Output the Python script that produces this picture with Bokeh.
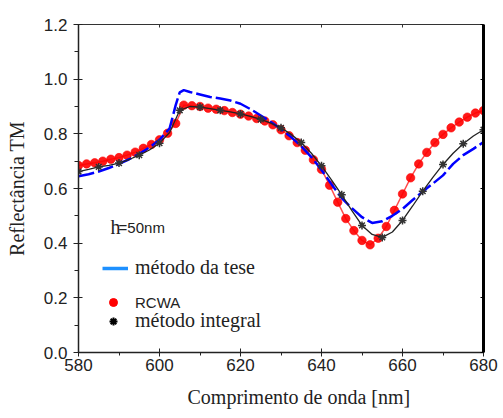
from bokeh.plotting import figure
from bokeh.models import (Range1d, LinearAxis, FixedTicker, PrintfTickFormatter,
                          Label, Legend, LegendItem, Title)
from bokeh.embed import file_html
from bokeh.resources import INLINE

# ---------------- data ----------------
rcwa_x = list(range(580, 682, 2))
rcwa_y = [0.684, 0.690, 0.694, 0.700, 0.707, 0.713, 0.722, 0.733, 0.747, 0.761,
          0.778, 0.802, 0.838, 0.905, 0.903, 0.900, 0.894, 0.890, 0.885, 0.878,
          0.872, 0.865, 0.856, 0.847, 0.833, 0.815, 0.793, 0.768, 0.740, 0.705,
          0.670, 0.612, 0.550, 0.490, 0.446, 0.410, 0.394, 0.418, 0.461, 0.520,
          0.580, 0.639, 0.690, 0.732, 0.768, 0.798, 0.822, 0.843, 0.861, 0.876,
          0.885]

tese_x = [580, 582.5, 585, 587.5, 590, 592.5, 595, 597.5, 600, 602.5, 604, 605, 606,
          607.5, 610, 612.5, 615, 617.5, 620, 622.5, 625, 627.5, 630, 632.5, 635,
          637.5, 640, 642.5, 645, 647.5, 650, 652.5, 655, 657.5, 660, 662.5, 665,
          667.5, 670, 672.5, 675, 677.5, 680]
tese_y = [0.645, 0.652, 0.662, 0.675, 0.690, 0.707, 0.727, 0.750, 0.778, 0.820, 0.905,
          0.952, 0.960, 0.953, 0.944, 0.935, 0.929, 0.922, 0.910, 0.890, 0.867, 0.843,
          0.818, 0.788, 0.755, 0.715, 0.668, 0.615, 0.565, 0.528, 0.495, 0.474, 0.480,
          0.500, 0.525, 0.558, 0.589, 0.618, 0.648, 0.690, 0.722, 0.745, 0.770]

integral_x = [580, 582.5, 585, 587.5, 590, 592.5, 595, 597.5, 600, 602.5, 605, 607.5,
              610, 612.5, 615, 617.5, 620, 622.5, 625, 627.5, 630, 632.5, 635, 637.5,
              640, 642.5, 645, 647.5, 650, 652.5, 655, 657.5, 660, 662.5, 665, 667.5,
              670, 672.5, 675, 677.5, 680]
integral_y = [0.662, 0.670, 0.679, 0.685, 0.693, 0.706, 0.722, 0.741, 0.766, 0.805,
              0.886, 0.900, 0.898, 0.892, 0.886, 0.880, 0.873, 0.864, 0.853, 0.839,
              0.822, 0.798, 0.768, 0.729, 0.683, 0.631, 0.577, 0.519, 0.465, 0.432,
              0.421, 0.441, 0.483, 0.536, 0.590, 0.641, 0.688, 0.729, 0.764, 0.792,
              0.815]

x_ticks = [580, 600, 620, 640, 660, 680]
x_minor = [590, 610, 630, 650, 670]
y_ticks = [0.0, 0.2, 0.4, 0.6, 0.8, 1.0, 1.2]
y_minor = [0.1, 0.3, 0.5, 0.7, 0.9, 1.1]

x_label = "Comprimento de onda  [nm]"
y_label = "Reflectância TM"
legend_labels = ["método da tese", "RCWA", "método integral"]
note_h, note_val = "h", "=50nm"

SERIF = "Liberation Serif"
SANS = "Liberation Sans"
TXT = "#222222"

p = figure(width=500, height=418, x_range=Range1d(580, 680), y_range=Range1d(0, 1.2),
           output_backend="svg", toolbar_location=None,
           min_border_left=78, min_border_right=17, min_border_top=24, min_border_bottom=66)
p.outline_line_color = None
p.xgrid.grid_line_color = None
p.ygrid.grid_line_color = None
p.background_fill_color = "white"
p.extra_y_ranges = {"legend": Range1d(5, 6)}  # legend-only renderers fall outside the frame

# bottom axis
xa = p.xaxis[0]
xa.ticker = FixedTicker(ticks=x_ticks, minor_ticks=x_minor)
xa.major_tick_in = 4
xa.major_tick_out = 4
xa.minor_tick_in = 0
xa.minor_tick_out = 3
xa.major_label_standoff = 2
xa.major_label_text_font = SANS
xa.major_label_text_font_size = "17px"
xa.major_label_text_color = TXT
xa.axis_line_width = 1.5
xa.axis_line_color = "#222222"
xa.major_tick_line_color = "#222222"
xa.minor_tick_line_color = "#222222"

# x label as a left-aligned title below the axis
p.add_layout(Title(text=x_label, align="left", offset=109, text_font=SERIF,
                   text_font_size="20px", text_font_style="normal", text_color=TXT,
                   standoff=21), "below")

# left axis
ya = p.yaxis[0]
ya.ticker = FixedTicker(ticks=y_ticks, minor_ticks=y_minor)
ya.formatter = PrintfTickFormatter(format="%.1f")
ya.major_tick_in = 4
ya.major_tick_out = 5
ya.minor_tick_in = 0
ya.minor_tick_out = 4
ya.major_label_standoff = 6
ya.major_label_text_font = SANS
ya.major_label_text_font_size = "17px"
ya.major_label_text_color = TXT
ya.axis_line_width = 1.5
ya.axis_line_color = "#222222"
ya.major_tick_line_color = "#222222"
ya.minor_tick_line_color = "#222222"
ya.axis_label = y_label
ya.axis_label_text_font = SERIF
ya.axis_label_text_font_size = "20px"
ya.axis_label_text_font_style = "normal"
ya.axis_label_text_color = TXT
ya.axis_label_standoff = 13

# top axis (box)
top = LinearAxis(ticker=FixedTicker(ticks=x_ticks, minor_ticks=[]),
                 major_label_overrides={t: "" for t in x_ticks},
                 major_tick_in=3, major_tick_out=0, minor_tick_in=0, minor_tick_out=0,
                 major_label_standoff=0, bounds=(580, 680),
                 axis_line_width=1.2, axis_line_color="#333333",
                 major_tick_line_color="#333333")
p.add_layout(top, "above")

# right axis (box, thick)
right = LinearAxis(ticker=FixedTicker(ticks=y_ticks, minor_ticks=[]),
                   major_label_overrides={t: "" for t in y_ticks},
                   major_tick_in=3, major_tick_out=0, minor_tick_in=0, minor_tick_out=0,
                   major_label_standoff=0, bounds=(0, 1.2),
                   axis_line_width=3, axis_line_color="black",
                   major_tick_line_color="black")
p.add_layout(right, "right")

# ---------------- series ----------------
p.line(rcwa_x, rcwa_y, line_color="#ff2020", line_width=1.5, line_alpha=0.8)
p.scatter(rcwa_x, rcwa_y, marker="circle", size=8.5, fill_color="#ff0000",
          line_color="#ff0000", fill_alpha=0.9, line_alpha=0.6)

p.line(tese_x, tese_y, line_color="#0000ff", line_width=2.5, line_dash="16 4")

p.line(integral_x, integral_y, line_color="#222222", line_width=1.3)
p.scatter(integral_x[::2], integral_y[::2], marker="asterisk", size=8,
          line_color="#333333", line_width=1.5)

# ---------------- legends (legend-only styled renderers, off-frame) ----------------
leg_line = p.line(tese_x, tese_y, y_range_name="legend", line_color="#1e90ff", line_width=3.5)
leg_dot = p.scatter(rcwa_x, rcwa_y, y_range_name="legend", marker="circle", size=11,
                    fill_color="#ff0000", line_color="#ff0000")
leg_star = p.scatter(integral_x, integral_y, y_range_name="legend", marker="asterisk",
                     size=10, line_color="black", line_width=2)


def add_legend(label, rend, loc, font, size, standoff):
    lg = Legend(items=[LegendItem(label=label, renderers=[rend], index=0)], location=loc,
                padding=0, margin=0, border_line_alpha=0, background_fill_alpha=0,
                glyph_width=26, glyph_height=20, label_standoff=standoff,
                label_text_font=font, label_text_font_size=size, label_text_color=TXT)
    p.add_layout(lg, "center")


add_legend(legend_labels[0], leg_line, (24, 73), SERIF, "20px", 7)
add_legend(legend_labels[1], leg_dot, (22, 40), SANS, "15px", 9)
add_legend(legend_labels[2], leg_star, (22, 20), SERIF, "20px", 9)

# ---------------- in-plot note ----------------
p.add_layout(Label(x=587.9, y=0.458, text=note_h, text_font=SERIF, text_font_size="20px",
                   text_color=TXT, text_baseline="alphabetic"))
p.add_layout(Label(x=589.9, y=0.458, text=note_val, text_font=SANS, text_font_size="15px",
                   text_color=TXT, text_baseline="alphabetic"))

open("out.html", "w").write(file_html(p, INLINE))
